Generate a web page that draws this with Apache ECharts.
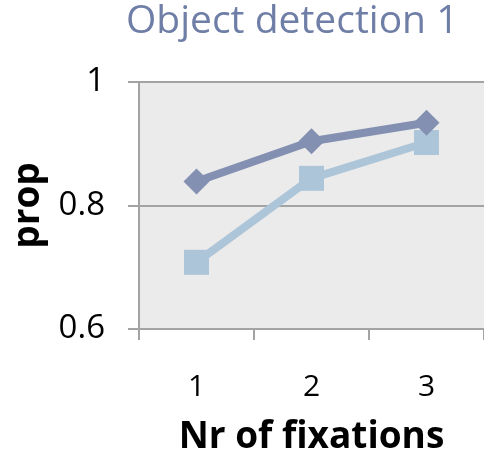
<!DOCTYPE html>
<html>
<head>
<meta charset="utf-8">
<script src="https://cdn.jsdelivr.net/npm/echarts@6/dist/echarts.min.js"></script>
<style>
  html, body { margin: 0; padding: 0; background: #fff; }
  #chart { width: 484px; height: 461px; }
</style>
</head>
<body>
<div id="chart"></div>
<script>
// values
const categories = ['1', '2', '3'];
const seriesDark = [0.839, 0.904, 0.934];
const seriesLight = [0.708, 0.844, 0.902];
const yTicks = [0.6, 0.8, 1];

const font = '"Open Sans", Lato, sans-serif';
const axisGray = '#a3a3a3';

let chart = echarts.init(document.getElementById('chart'));
let option = {
  animation: false,
  title: {
    text: 'Object detection 1',
    left: 126,
    top: 2,
    padding: 0,
    textStyle: { color: '#6f7ea6', fontSize: 39, fontWeight: 'normal', fontFamily: font }
  },
  grid: {
    left: 139, top: 82, width: 350, height: 248.6,
    show: true, backgroundColor: '#ebebeb', borderWidth: 0
  },
  xAxis: {
    type: 'category',
    data: categories,
    boundaryGap: true,
    axisLine: { show: true, lineStyle: { color: axisGray, width: 2 } },
    axisTick: { show: true, inside: false, length: 11, lineStyle: { color: axisGray, width: 2 } },
    axisLabel: { color: '#000', fontSize: 30, fontFamily: font, margin: 43 },
    name: 'Nr of fixations',
    nameLocation: 'middle',
    nameGap: 90,
    nameTextStyle: { color: '#000', fontSize: 37, fontWeight: 'bold', fontFamily: font }
  },
  yAxis: {
    type: 'value',
    min: 0.6, max: 1, interval: 0.2,
    axisLine: { show: true, lineStyle: { color: axisGray, width: 2 } },
    axisTick: { show: true, inside: false, length: 11, lineStyle: { color: axisGray, width: 2 } },
    splitLine: { show: true, lineStyle: { color: axisGray, width: 2 } },
    axisLabel: {
      color: '#000', fontSize: 33, fontFamily: font, margin: 34,
      formatter: v => (yTicks.includes(+v.toFixed(1)) ? (v === 1 ? '1' : v.toFixed(1)) : '')
    },
    name: 'prop',
    nameLocation: 'middle',
    nameGap: 92,
    nameTextStyle: { color: '#000', fontSize: 37, fontWeight: 'bold', fontFamily: font }
  },
  series: [
    {
      name: 'light',
      type: 'line',
      data: seriesLight,
      symbol: 'rect',
      symbolSize: 25,
      lineStyle: { color: '#adc5d9', width: 8 },
      itemStyle: { color: '#adc5d9' },
      z: 2
    },
    {
      name: 'dark',
      type: 'line',
      data: seriesDark,
      symbol: 'diamond',
      symbolSize: [26, 26],
      lineStyle: { color: '#8390b2', width: 8 },
      itemStyle: { color: '#8390b2' },
      z: 3
    }
  ]
};
chart.setOption(option);
</script>
</body>
</html>
